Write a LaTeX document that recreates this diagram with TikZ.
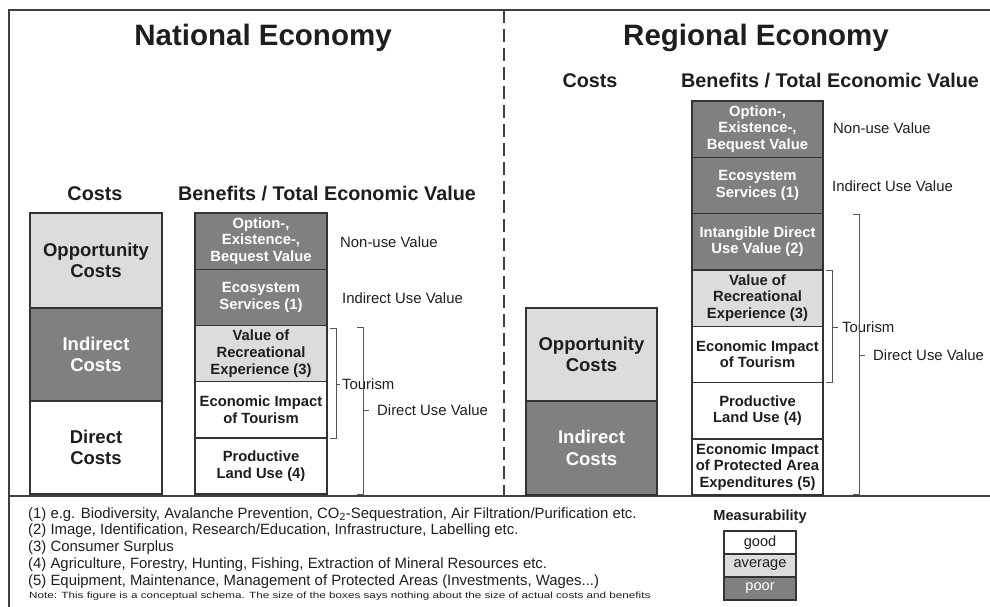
\documentclass[tikz,border=0pt]{standalone}
\usepackage{fontspec}
\setmainfont{Liberation Sans}
\newfontfamily\notefont[FakeStretch=1.3]{Liberation Sans}
\definecolor{poorc}{HTML}{808080}
\definecolor{avgc}{HTML}{DCDCDC}
\definecolor{boxline}{HTML}{333333}
\definecolor{framec}{HTML}{404040}
\definecolor{txt}{HTML}{1E1E1E}
\definecolor{brk}{HTML}{555555}
\begin{document}
\begin{tikzpicture}[x=1pt,y=-1pt,
  box/.style={draw=boxline, line width=1.4pt, inner sep=0pt, outer sep=0pt, align=center, text=txt,
    font=\bfseries\fontsize{14.8}{16.7}\selectfont, anchor=north west},
  costbox/.style={box, font=\bfseries\fontsize{18.5}{21.5}\selectfont},
  poor/.style={fill=poorc, text=white},
  avg/.style={fill=avgc},
  good/.style={fill=white},
  bw/.style={minimum width=132pt, minimum height=56.2pt},
  rbw/.style={minimum width=131pt, minimum height=56.3pt},
  title/.style={font=\bfseries\fontsize{29.5}{31}\selectfont, text=txt},
  head/.style={font=\bfseries\fontsize{19.8}{22}\selectfont, text=txt},
  lbl/.style={font=\fontsize{14.9}{16}\selectfont, text=txt, anchor=west, inner sep=0pt},
  bracket/.style={draw=brk, line width=1pt},
  frame/.style={draw=framec, line width=2pt},
  legbox/.style={box, minimum width=72pt, minimum height=23pt, font=\fontsize{14.6}{16}\selectfont}
]
\useasboundingbox (0,0) rectangle (990,607);
% frame
\draw[frame] (9,607) -- (9,10) -- (990,10);
\draw[frame] (9,496) -- (990,496);
\draw[frame, dash pattern=on 13pt off 6pt] (504,10) -- (504,496);

% titles
\node[title] (tNat) at (263,38) {National Economy};
\node[title] (tReg) at (756,38) {Regional Economy};

% ---------------- National ----------------
\node[head] (nhC) at (95,194) {Costs};
\node[head] (nhB) at (327,194) {Benefits / Total Economic Value};

\node[costbox, avg, minimum width=132pt, minimum height=95pt] (nOpp) at (30,213) {Opportunity\\Costs};
\node[costbox, poor, minimum width=132pt, minimum height=93pt] (nInd) at (30,308) {Indirect\\Costs};
\node[costbox, good, minimum width=132pt, minimum height=93pt] (nDir) at (30,401) {Direct\\Costs};

\node[box, poor, bw] (nb1) at (195,213) {Option-,\\Existence-,\\Bequest Value};
\node[box, poor, bw] (nb2) at (195,269.2) {Ecosystem\\Services (1)};
\node[box, avg, bw] (nb3) at (195,325.4) {Value of\\Recreational\\Experience (3)};
\node[box, good, bw] (nb4) at (195,381.6) {Economic Impact\\of Tourism};
\node[box, good, bw] (nb5) at (195,437.8) {Productive\\Land Use (4)};

\node[lbl] (nlNU) at (340,242) {Non-use Value};
\node[lbl] (nlIU) at (342,298) {Indirect Use Value};
\draw[bracket] (330,328) -- (336,328) -- (336,438) -- (330,438);
\draw[bracket] (336,384) -- (340,384);
\node[lbl] (nlT) at (342,384) {Tourism};
\draw[bracket] (357,327) -- (363,327) -- (363,494) -- (357,494);
\draw[bracket] (363,410) -- (369,410);
\node[lbl] (nlDU) at (377,410) {Direct Use Value};

% ---------------- Regional ----------------
\node[head] (rhC) at (590,81) {Costs};
\node[head] (rhB) at (830,81) {Benefits / Total Economic Value};

\node[costbox, avg, minimum width=131pt, minimum height=93pt] (rOpp) at (526,308) {Opportunity\\Costs};
\node[costbox, poor, minimum width=131pt, minimum height=94pt] (rInd) at (526,401) {Indirect\\Costs};

\node[box, poor, rbw] (rb1) at (692,101) {Option-,\\Existence-,\\Bequest Value};
\node[box, poor, rbw] (rb2) at (692,157.3) {Ecosystem\\Services (1)};
\node[box, poor, rbw] (rb3) at (692,213.6) {Intangible Direct\\Use Value (2)};
\node[box, avg, rbw] (rb4) at (692,269.9) {Value of\\Recreational\\Experience (3)};
\node[box, good, rbw] (rb5) at (692,326.2) {Economic Impact\\of Tourism};
\node[box, good, rbw] (rb6) at (692,382.5) {Productive\\Land Use (4)};
\node[box, good, rbw] (rb7) at (692,438.8) {Economic Impact\\of Protected Area\\Expenditures (5)};

\node[lbl] (rlNU) at (833,128) {Non-use Value};
\node[lbl] (rlIU) at (832,186) {Indirect Use Value};
\draw[bracket] (826,270) -- (832,270) -- (832,382) -- (826,382);
\draw[bracket] (832,327) -- (838,327);
\node[lbl] (rlT) at (842,327) {Tourism};
\draw[bracket] (853,214) -- (859,214) -- (859,494) -- (853,494);
\draw[bracket] (859,355) -- (865,355);
\node[lbl] (rlDU) at (873,355) {Direct Use Value};

% ---------------- Footnotes ----------------
\node[anchor=north west, align=left, inner sep=0pt, text=txt, font=\fontsize{14.9}{16.75}\selectfont] (fn) at (28,507)
 {(1) e.g. Biodiversity, Avalanche Prevention, CO\textsubscript{2}-Sequestration, Air Filtration/Purification etc.\\
  (2) Image, Identification, Research/Education, Infrastructure, Labelling etc.\\
  (3) Consumer Surplus\\
  (4) Agriculture, Forestry, Hunting, Fishing, Extraction of Mineral Resources etc.\\
  (5) Equipment, Maintenance, Management of Protected Areas (Investments, Wages...)};
\node[anchor=west, inner sep=0pt, text=txt, font=\notefont\fontsize{9}{10}\selectfont] (note) at (29,596)
 {Note: This figure is a conceptual schema. The size of the boxes says nothing about the size of actual costs and benefits};

% ---------------- Legend ----------------
\node[font=\bfseries\fontsize{14.6}{16}\selectfont, text=txt] (mh) at (760,517) {Measurability};
\node[legbox, good] (lg) at (724,531) {good};
\node[legbox, avg] (la) at (724,554) {average};
\node[legbox, poor] (lp) at (724,577) {poor};
\end{tikzpicture}
\end{document}
